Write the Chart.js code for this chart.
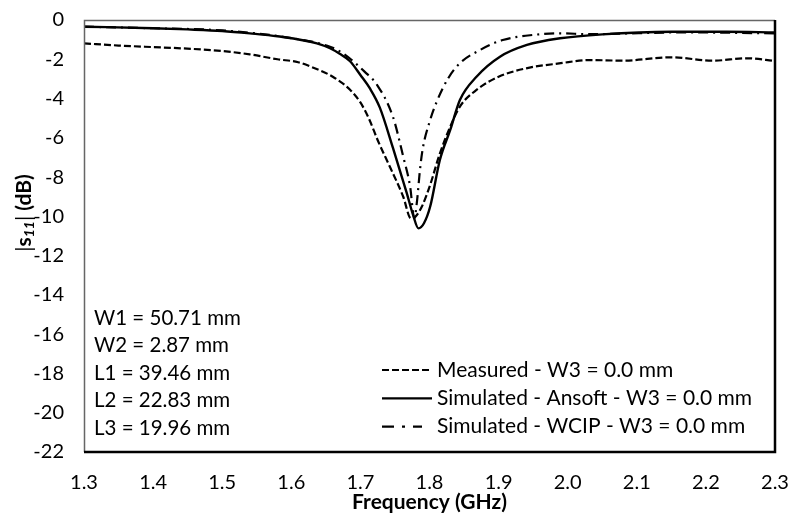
<!DOCTYPE html>
<html>
<head>
<meta charset="utf-8">
<script src="https://cdn.jsdelivr.net/npm/chart.js@4.4.1/dist/chart.umd.min.js"></script>
<style>
  html, body { margin: 0; padding: 0; background: #fff; }
</style>
</head>
<body>
<canvas id="myChart" width="794" height="516"></canvas>
<script>
// values
const measuredFreq = [1.30, 1.35, 1.40, 1.44, 1.50, 1.54, 1.58, 1.61, 1.63, 1.66, 1.685, 1.70, 1.712, 1.726, 1.743, 1.762, 1.773, 1.78, 1.789, 1.80, 1.815, 1.83, 1.844, 1.868, 1.90, 1.94, 1.99, 2.03, 2.08, 2.15, 2.21, 2.26, 2.30]
const measuredDb = [-1.19, -1.30, -1.38, -1.44, -1.58, -1.75, -2.00, -2.15, -2.40, -2.89, -3.55, -4.20, -5.00, -6.20, -7.50, -9.00, -10.10, -10.00, -9.50, -8.50, -6.80, -5.43, -4.41, -3.56, -2.89, -2.46, -2.20, -2.04, -2.07, -1.90, -2.07, -1.95, -2.09]

const ansoftFreq = [1.30, 1.40, 1.45, 1.50, 1.54, 1.58, 1.637, 1.656, 1.67, 1.685, 1.70, 1.714, 1.728, 1.747, 1.767, 1.776, 1.784, 1.792, 1.801, 1.815, 1.830, 1.844, 1.868, 1.902, 1.941, 1.989, 2.05, 2.15, 2.23, 2.30]
const ansoftDb = [-0.34, -0.42, -0.48, -0.56, -0.68, -0.83, -1.19, -1.44, -1.72, -2.10, -2.80, -3.50, -4.45, -6.50, -8.80, -9.90, -10.61, -10.35, -9.50, -7.13, -5.60, -4.07, -2.89, -1.87, -1.27, -0.93, -0.73, -0.60, -0.60, -0.63]

const wcipFreq = [1.30, 1.40, 1.50, 1.60, 1.656, 1.675, 1.706, 1.724, 1.747, 1.762, 1.772, 1.778, 1.782, 1.786, 1.79, 1.80, 1.81, 1.827, 1.844, 1.873, 1.906, 1.95, 1.99, 2.03, 2.17, 2.30]
const wcipDb = [-0.34, -0.42, -0.53, -0.92, -1.36, -1.70, -2.63, -3.30, -4.92, -6.96, -8.49, -10.10, -9.20, -7.70, -6.60, -5.20, -4.20, -2.97, -2.20, -1.53, -1.02, -0.76, -0.68, -0.72, -0.63, -0.68]

const seriesLabels = ["Measured - W3 = 0.0 mm", "Simulated - Ansoft - W3 = 0.0 mm", "Simulated - WCIP - W3 = 0.0 mm"]
const xTicks = [1.3, 1.4, 1.5, 1.6, 1.7, 1.8, 1.9, 2.0, 2.1, 2.2, 2.3]
const yTicks = [0, -2, -4, -6, -8, -10, -12, -14, -16, -18, -20, -22]
const dimLabels = ["W1 = 50.71 mm", "W2 = 2.87 mm", "L1 = 39.46 mm", "L2 = 22.83 mm", "L3 = 19.96 mm"]

const FONT = "Lato, 'Noto Sans', sans-serif"
const toPoints = (f, d) => f.map((x, i) => ({ x: x, y: d[i] }))

// frame: thin grey top/left, heavy black bottom/right
const framePlugin = {
  id: "frame",
  afterDraw(chart) {
    const { ctx, chartArea: a } = chart
    ctx.save()
    ctx.strokeStyle = "#666"
    ctx.lineWidth = 1.5
    ctx.beginPath()
    ctx.moveTo(a.left + 0.5, a.bottom)
    ctx.lineTo(a.left + 0.5, a.top + 0.5)
    ctx.lineTo(a.right, a.top + 0.5)
    ctx.stroke()
    ctx.strokeStyle = "#000"
    ctx.lineWidth = 2.5
    ctx.beginPath()
    ctx.moveTo(a.left, a.bottom)
    ctx.lineTo(a.right, a.bottom)
    ctx.lineTo(a.right, a.top)
    ctx.stroke()
    ctx.restore()
  }
}

// legend and dimension notes drawn inside the plot area
const notesPlugin = {
  id: "notes",
  afterDraw(chart) {
    const { ctx } = chart
    ctx.save()
    ctx.fillStyle = "#000"
    ctx.font = "20.5px " + FONT
    ctx.textBaseline = "middle"
    ctx.textAlign = "left"
    dimLabels.forEach((t, i) => ctx.fillText(t, 94, 318 + i * 27.5))

    ctx.font = "21px " + FONT
    const sampleDash = [[7, 3], [], [12, 8, 3, 8]]
    const sampleEnd = [432, 432, 422]
    chart.data.datasets.forEach((ds, i) => {
      const y = 370 + i * 28.3
      ctx.strokeStyle = "#000"
      ctx.lineWidth = 2.2
      ctx.setLineDash(sampleDash[i])
      ctx.beginPath()
      ctx.moveTo(382, y)
      ctx.lineTo(sampleEnd[i], y)
      ctx.stroke()
      ctx.setLineDash([])
      ctx.fillText(ds.label, 437, y)
    })
    ctx.restore()
  }
}

// y axis title with subscript: |s11| (dB)
const yTitlePlugin = {
  id: "yTitle",
  afterDraw(chart) {
    const { ctx } = chart
    const parts = [
      { t: "|", f: "21px " + FONT, dy: 0 },
      { t: "s", f: "bold 21px " + FONT, dy: 0 },
      { t: "11", f: "italic bold 14px " + FONT, dy: 5 },
      { t: "|", f: "21px " + FONT, dy: 0 },
      { t: " (dB)", f: "bold 21px " + FONT, dy: 0 }
    ]
    ctx.save()
    let total = 0
    parts.forEach(p => { ctx.font = p.f; p.w = ctx.measureText(p.t).width; total += p.w })
    ctx.translate(24, 213)
    ctx.rotate(-Math.PI / 2)
    ctx.fillStyle = "#000"
    ctx.textBaseline = "middle"
    ctx.textAlign = "left"
    let x = -total / 2
    parts.forEach(p => { ctx.font = p.f; ctx.fillText(p.t, x, p.dy); x += p.w })
    ctx.restore()
  }
}

const lineStyle = {
  borderColor: "#000",
  borderWidth: 2.2,
  pointRadius: 0,
  fill: false,
  cubicInterpolationMode: "monotone"
}

new Chart(document.getElementById("myChart"), {
  type: "line",
  data: {
    datasets: [
      { ...lineStyle, label: seriesLabels[0], data: toPoints(measuredFreq, measuredDb), borderDash: [7, 3] },
      { ...lineStyle, label: seriesLabels[1], data: toPoints(ansoftFreq, ansoftDb), borderWidth: 2.4 },
      { ...lineStyle, label: seriesLabels[2], data: toPoints(wcipFreq, wcipDb), borderDash: [10, 5, 2, 5] }
    ]
  },
  options: {
    responsive: false,
    animation: false,
    layout: { padding: { top: 20, right: 19, left: 0, bottom: 0 } },
    plugins: {
      legend: { display: false },
      tooltip: { enabled: false }
    },
    scales: {
      x: {
        type: "linear",
        min: 1.3,
        max: 2.3,
        afterBuildTicks: (s) => { s.ticks = xTicks.map(v => ({ value: v })) },
        afterFit: (s) => { s.height = 64; s.paddingLeft = 0; s.paddingRight = 0 },
        grid: { display: false, drawTicks: false },
        border: { display: false },
        ticks: {
          color: "#000",
          padding: 19,
          font: { family: FONT, size: 20 },
          callback: (v) => Number(v).toFixed(1)
        },
        title: {
          display: true,
          text: "Frequency (GHz)",
          color: "#000",
          font: { family: FONT, size: 21, weight: "bold" },
          padding: { top: 0, bottom: 1 }
        }
      },
      y: {
        min: -22,
        max: 0,
        afterBuildTicks: (s) => { s.ticks = yTicks.map(v => ({ value: v })) },
        afterFit: (s) => { s.width = 84; s.paddingTop = 0; s.paddingBottom = 0 },
        grid: { display: false, drawTicks: false },
        border: { display: false },
        ticks: {
          color: "#000",
          padding: 20,
          font: { family: FONT, size: 20 }
        }
      }
    }
  },
  plugins: [framePlugin, notesPlugin, yTitlePlugin]
})
</script>
</body>
</html>
